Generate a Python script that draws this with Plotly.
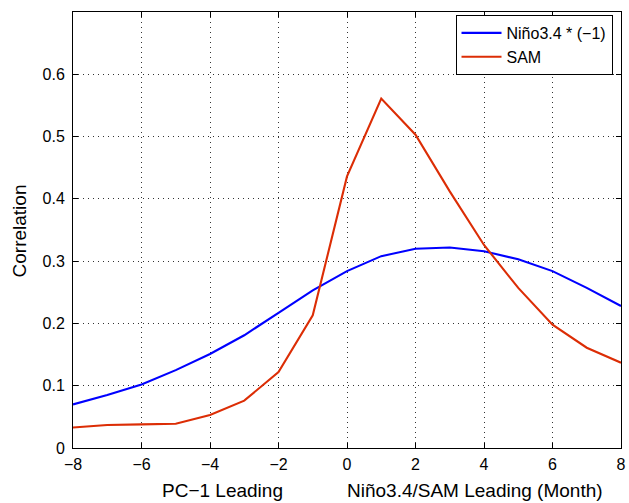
import plotly.graph_objects as go

lags = [-8, -7, -6, -5, -4, -3, -2, -1, 0, 1, 2, 3, 4, 5, 6, 7, 8]
nino34_neg = [0.070, 0.085, 0.102, 0.125, 0.151, 0.181, 0.217, 0.253, 0.284,
              0.308, 0.320, 0.322, 0.316, 0.303, 0.284, 0.257, 0.228]
sam = [0.033, 0.037, 0.038, 0.039, 0.053, 0.076, 0.122, 0.213, 0.436,
       0.561, 0.503, 0.412, 0.326, 0.257, 0.198, 0.161, 0.137]

x_ticks = [-8, -6, -4, -2, 0, 2, 4, 6, 8]
x_ticktext = ["\u22128", "\u22126", "\u22124", "\u22122", "0", "2", "4", "6", "8"]
y_ticks = [0, 0.1, 0.2, 0.3, 0.4, 0.5, 0.6]
y_ticktext = ["0", "0.1", "0.2", "0.3", "0.4", "0.5", "0.6"]

font = "Liberation Sans, Arial, Helvetica, sans-serif"
FS = 16
TS = 19

fig = go.Figure()
fig.add_trace(go.Scatter(x=lags, y=nino34_neg, mode="lines", name="Niño3.4 * (\u22121)",
                         line=dict(color="rgb(0,0,255)", width=2.1)))
fig.add_trace(go.Scatter(x=lags, y=sam, mode="lines", name="SAM",
                         line=dict(color="rgb(220,45,5)", width=2.1)))

axis_common = dict(showline=True, linecolor="black", linewidth=1, mirror="ticks",
                   ticks="inside", ticklen=5, tickcolor="black",
                   showgrid=True, gridcolor="rgba(0,0,0,0.8)", griddash="1px,4px", gridwidth=1,
                   zeroline=False, ticklabeloverflow="allow",
                   tickfont=dict(family=font, size=FS, color="black"))

fig.update_xaxes(range=[-8, 8], tickvals=x_ticks, ticktext=x_ticktext, ticklabelstandoff=2,
                 **axis_common)
fig.update_yaxes(range=[0, 0.7], tickvals=y_ticks, ticktext=y_ticktext, ticklabelstandoff=4,
                 **axis_common)

W, H = 629, 503
L, R, T, B = 73, 3, 12, 55
pw, ph = W - L - R, H - T - B


def px2paper(px, py):
    return (px - L) / pw, (H - B - py) / ph


ann_specs = [
    ("Correlation", 20, 231, -90),
    ("PC\u22121 Leading", 224, 490, 0),
    ("Niño3.4/SAM Leading (Month)", 479, 490, 0),
]
anns = []
for text, px, py, ang in ann_specs:
    ax, ay = px2paper(px, py)
    anns.append(dict(text=text, x=ax, y=ay, xref="paper", yref="paper", showarrow=False,
                     textangle=ang, xanchor="center", yanchor="middle",
                     font=dict(family=font, size=TS, color="black")))

lx, ly = px2paper(459, 15)
fig.update_layout(
    width=W, height=H,
    margin=dict(l=L, r=R, t=T, b=B),
    plot_bgcolor="white", paper_bgcolor="white",
    font=dict(family=font, size=FS, color="black"),
    showlegend=True,
    legend=dict(x=lx, y=ly, xanchor="left", yanchor="top",
                bordercolor="black", borderwidth=1, bgcolor="white",
                font=dict(family=font, size=FS, color="black"),
                tracegroupgap=0, itemwidth=40),
    annotations=anns,
)

fig.write_html("out.html", config={"displayModeBar": False},
               post_script="document.body.style.margin='0';")
